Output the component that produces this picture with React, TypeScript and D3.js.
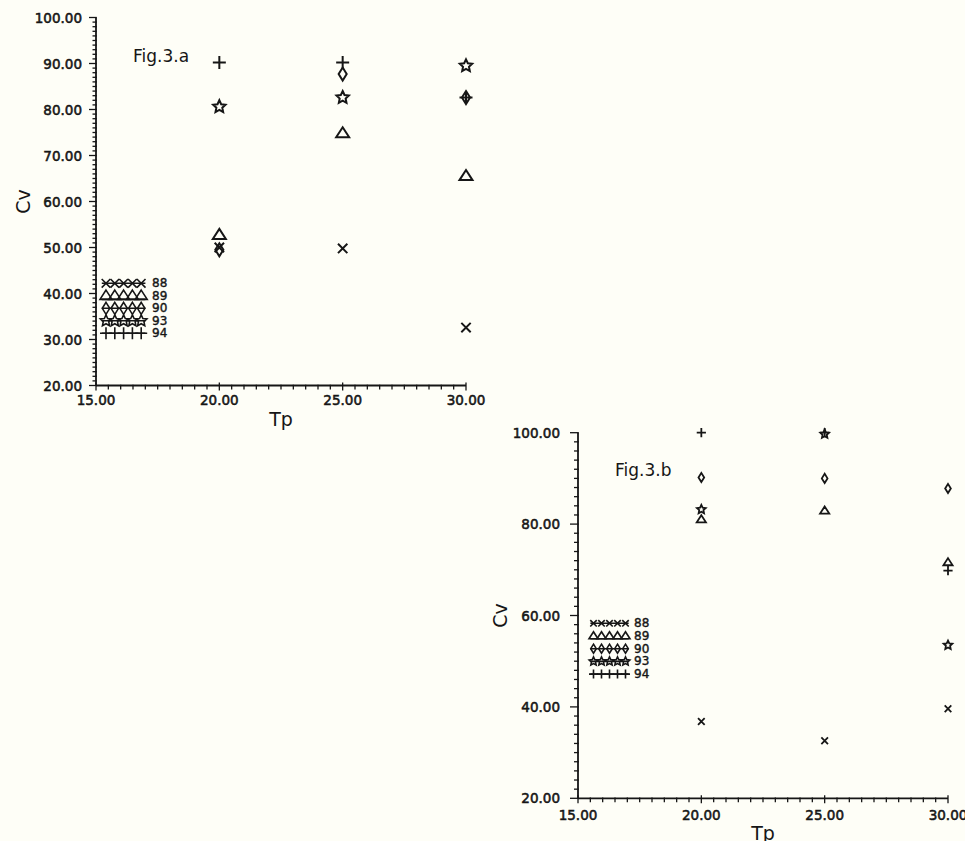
import React, { useEffect, useRef } from 'react';
import * as d3 from 'd3';

// Tp positions shared by both figures
const tpValues = [20, 25, 30];
const seriesLabels = ['88', '89', '90', '93', '94'];
const seriesSymbols = ['cross', 'triangle', 'diamond', 'star', 'plus'];

// Fig.3.a  (Cv per series at Tp = 20, 25, 30)
const cvA88 = [50.0, 49.8, 32.6];
const cvA89 = [52.7, 74.8, 65.5];
const cvA90 = [49.5, 87.7, 82.6];
const cvA93 = [80.6, 82.6, 89.5];
const cvA94 = [90.2, 90.2, 82.6];

// Fig.3.b
const cvB88 = [36.8, 32.6, 39.6];
const cvB89 = [81.0, 82.9, 71.6];
const cvB90 = [90.2, 90.0, 87.8];
const cvB93 = [83.2, 99.7, 53.5];
const cvB94 = [100.0, 100.0, 69.8];

const xTickLabels = [15, 20, 25, 30];
const yTickLabelsA = [20, 30, 40, 50, 60, 70, 80, 90, 100];
const yTickLabelsB = [20, 40, 60, 80, 100];

const INK = '#161616';

function symbolPath(type: string, r: number) {
  switch (type) {
    case 'cross': {
      const a = r * 0.72;
      return `M${-a},${-a}L${a},${a}M${-a},${a}L${a},${-a}`;
    }
    case 'triangle':
      return `M0,${-r * 0.95}L${r},${r * 0.6}L${-r},${r * 0.6}Z`;
    case 'diamond':
      return `M0,${-r}L${r * 0.62},0L0,${r}L${-r * 0.62},0Z`;
    case 'star': {
      const pts: string[] = [];
      for (let i = 0; i < 10; i++) {
        const rr = i % 2 === 0 ? r : r * 0.48;
        const ang = -Math.PI / 2 + (i * Math.PI) / 5;
        pts.push(`${(rr * Math.cos(ang)).toFixed(2)},${(rr * Math.sin(ang)).toFixed(2)}`);
      }
      return 'M' + pts.join('L') + 'Z';
    }
    default:
      return `M${-r},0L${r},0M0,${-r}L0,${r}`;
  }
}

const panels = [
  {
    left: 96, right: 466, top: 17.5, bottom: 385.5,
    series: [cvA88, cvA89, cvA90, cvA93, cvA94],
    yLabels: yTickLabelsA, yMinor: 1, yMinorLen: 3.5, yMajorLen: 7, yLabelGap: 14, xLabelDy: 19.5,
    r: 6.5, sw: 2,
    fig: 'Fig.3.a', figX: 133, figY: 62,
    legX: 106, legY: 283.3, legStep: 8.8, legGap: 12.5, legR: 6, legLabelX: 152,
    tpY: 426, cvX: 30,
  },
  {
    left: 578, right: 948, top: 432.7, bottom: 798.3,
    series: [cvB88, cvB89, cvB90, cvB93, cvB94],
    yLabels: yTickLabelsB, yMinor: 2, yMinorLen: 4, yMajorLen: 8, yLabelGap: 18, xLabelDy: 21.5,
    r: 4.6, sw: 1.8,
    fig: 'Fig.3.b', figX: 615, figY: 476,
    legX: 593.5, legY: 623.3, legStep: 8, legGap: 12.7, legR: 4.5, legLabelX: 634,
    tpY: 840, cvX: 507,
  },
];

export default function App() {
  const svgRef = useRef<SVGSVGElement>(null);

  useEffect(() => {
    if (!svgRef.current) return;
    const svg = d3.select(svgRef.current);
    svg.selectAll('*').remove();

    svg.append('rect').attr('width', 965).attr('height', 841).attr('fill', '#fefef7');

    panels.forEach(p => {
      const x = d3.scaleLinear().domain([15, 30]).range([p.left, p.right]);
      const y = d3.scaleLinear().domain([20, 100]).range([p.bottom, p.top]);
      const g = svg.append('g').attr('stroke', INK).attr('fill', 'none');

      // axes lines
      g.append('line').attr('x1', p.left).attr('x2', p.left).attr('y1', y(100)).attr('y2', y(20)).attr('stroke-width', 1.8);
      g.append('line').attr('x1', p.left).attr('x2', p.right).attr('y1', y(20)).attr('y2', y(20)).attr('stroke-width', 1.8);

      // y ticks
      d3.range(20, 100.001, p.yMinor).forEach(v => {
        const major = p.yLabels.some(l => Math.abs(l - v) < 1e-6);
        g.append('line')
          .attr('x1', p.left - (major ? p.yMajorLen : p.yMinorLen)).attr('x2', p.left + 0.8)
          .attr('y1', y(v)).attr('y2', y(v))
          .attr('stroke-width', 1.3);
      });

      // x ticks
      d3.range(15, 30.001, 0.5).forEach(v => {
        const major = xTickLabels.some(l => Math.abs(l - v) < 1e-6);
        g.append('line')
          .attr('x1', x(v)).attr('x2', x(v))
          .attr('y1', y(20) - (major ? 3 : 0.8)).attr('y2', y(20) + (major ? 5 : 4))
          .attr('stroke-width', 1.3);
      });

      const txt = svg.append('g').attr('fill', INK).attr('font-family', 'DejaVu Sans, sans-serif');

      p.yLabels.forEach(v => {
        txt.append('text')
          .attr('x', p.left - p.yLabelGap).attr('y', y(v))
          .attr('text-anchor', 'end').attr('dominant-baseline', 'central')
          .attr('font-size', 13.5).attr('stroke', INK).attr('stroke-width', 0.55)
          .text(d3.format('.2f')(v));
      });
      xTickLabels.forEach(v => {
        txt.append('text')
          .attr('x', x(v)).attr('y', y(20) + p.xLabelDy)
          .attr('text-anchor', 'middle')
          .attr('font-size', 13.5).attr('stroke', INK).attr('stroke-width', 0.55)
          .text(d3.format('.2f')(v));
      });

      // axis titles
      txt.append('text')
        .attr('x', (p.left + p.right) / 2).attr('y', p.tpY)
        .attr('text-anchor', 'middle').attr('font-size', 19)
        .text('Tp');
      txt.append('text')
        .attr('transform', `translate(${p.cvX},${(p.top + p.bottom) / 2}) rotate(-90)`)
        .attr('text-anchor', 'middle').attr('font-size', 19)
        .text('Cv');

      txt.append('text')
        .attr('x', p.figX).attr('y', p.figY)
        .attr('font-size', 17).text(p.fig);

      // data points
      p.series.forEach((vals, si) => {
        vals.forEach((v, i) => {
          g.append('path')
            .attr('transform', `translate(${x(tpValues[i])},${y(v)})`)
            .attr('d', symbolPath(seriesSymbols[si], p.r))
            .attr('stroke-width', p.sw)
            .attr('stroke-linejoin', 'miter');
        });
      });

      // legend
      seriesLabels.forEach((lab, si) => {
        const ly = p.legY + si * p.legGap;
        const x0 = p.legX;
        const x1 = p.legX + p.legStep * 4;
        const off = seriesSymbols[si] === 'triangle' ? p.legR * 0.6 : 0;
        g.append('line')
          .attr('x1', x0 - p.legR * 0.7).attr('x2', x1 + p.legR * 0.7)
          .attr('y1', ly + off).attr('y2', ly + off)
          .attr('stroke-width', 1.6);
        d3.range(5).forEach(k => {
          g.append('path')
            .attr('transform', `translate(${x0 + k * p.legStep},${ly})`)
            .attr('d', symbolPath(seriesSymbols[si], p.legR))
            .attr('stroke-width', 1.6);
        });
        txt.append('text')
          .attr('x', p.legLabelX).attr('y', ly)
          .attr('dominant-baseline', 'central')
          .attr('font-size', 12).attr('stroke', INK).attr('stroke-width', 0.4)
          .text(lab);
      });
    });
  }, []);

  return (
    <svg
      ref={svgRef}
      width={965}
      height={841}
      style={{ position: 'absolute', left: 0, top: 0, display: 'block' }}
    />
  );
}
